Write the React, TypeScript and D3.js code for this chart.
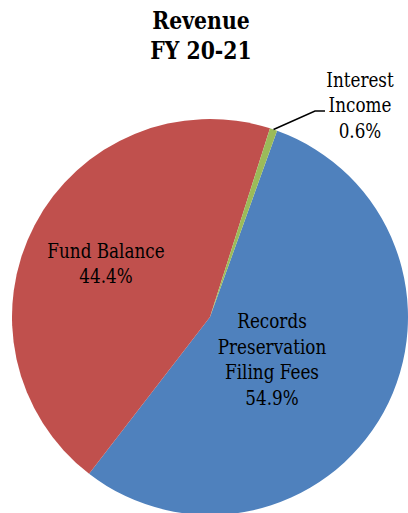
import React, { useEffect, useRef } from 'react';
import * as d3 from 'd3';

// chart data
const categories = ['Records Preservation Filing Fees', 'Fund Balance', 'Interest Income'];
const values = [54.9, 44.4, 0.6];
const colors = ['#4F81BD', '#C0504D', '#9BBB59'];
const labelLines = [
    ['Records', 'Preservation', 'Filing Fees', '54.9%'],
    ['Fund Balance', '44.4%'],
    ['Interest', 'Income', '0.6%']
];
const titleLines = ['Revenue', 'FY 20-21'];

const width = 408;
const height = 513;

// the Times-like font is not installed, so DejaVu Serif is squeezed to Times widths
const condense = (text: d3.Selection<SVGTextElement, unknown, null, undefined>, ratio: number) => {
    text.selectAll<SVGTSpanElement, string>('tspan').each(function () {
        const len = this.getComputedTextLength();
        d3.select(this)
            .attr('textLength', len * ratio)
            .attr('lengthAdjust', 'spacingAndGlyphs');
    });
};

export default function App() {
    const ref = useRef<SVGSVGElement>(null);

    useEffect(() => {
        const svg = d3.select(ref.current);
        svg.selectAll('*').remove();

        const cx = 210, cy = 317, radius = 198;
        const font = "'DejaVu Serif', serif";

        //title
        const title = svg.append('text')
            .attr('text-anchor', 'middle')
            .style('font-family', font)
            .style('font-weight', 'bold')
            .style('font-size', '24px');
        title.selectAll('tspan')
            .data(titleLines)
            .enter()
            .append('tspan')
            .attr('x', 201)
            .attr('y', (d, i) => 29 + i * 30)
            .text(d => d);
        condense(title as any, 0.85);

        const start = (19.8 * Math.PI) / 180;
        const pie = d3.pie<number>()
            .sort(null)
            .startAngle(start)
            .endAngle(start + 2 * Math.PI);
        const arcs = pie(values);

        const arc = d3.arc<d3.PieArcDatum<number>>()
            .innerRadius(0)
            .outerRadius(radius);

        const g = svg.append('g').attr('transform', `translate(${cx},${cy})`);

        g.selectAll('path')
            .data(arcs)
            .enter()
            .append('path')
            .attr('d', d => arc(d) as string)
            .attr('fill', (d, i) => colors[i])
            .append('title')
            .text((d, i) => categories[i]);

        // label anchor positions (centre x, first baseline y)
        const labelPos = [
            [272, 328],
            [106, 257.5],
            [360, 86.5]
        ];
        const lineGap = 25.7;

        labelLines.forEach((lines, i) => {
            const t = svg.append('text')
                .attr('text-anchor', 'middle')
                .style('font-family', font)
                .style('font-size', '21px')
                .attr('fill', '#000');
            t.selectAll('tspan')
                .data(lines)
                .enter()
                .append('tspan')
                .attr('x', labelPos[i][0])
                .attr('y', (d, j) => labelPos[i][1] + j * lineGap)
                .text(d => d);
            condense(t as any, 0.8);
        });

        //leader line for the small slice
        const green = arcs[2];
        const mid = (green.startAngle + green.endAngle) / 2;
        const px = cx + Math.sin(mid) * radius;
        const py = cy - Math.cos(mid) * radius;
        svg.append('polyline')
            .attr('points', `${px},${py} 315,111 325,111`)
            .attr('fill', 'none')
            .attr('stroke', '#000')
            .attr('stroke-width', 1.5);
    }, []);

    return (
        <svg
            ref={ref}
            width={width}
            height={height}
            style={{ position: 'fixed', left: 0, top: 0, background: '#fff' }}
        />
    );
}
